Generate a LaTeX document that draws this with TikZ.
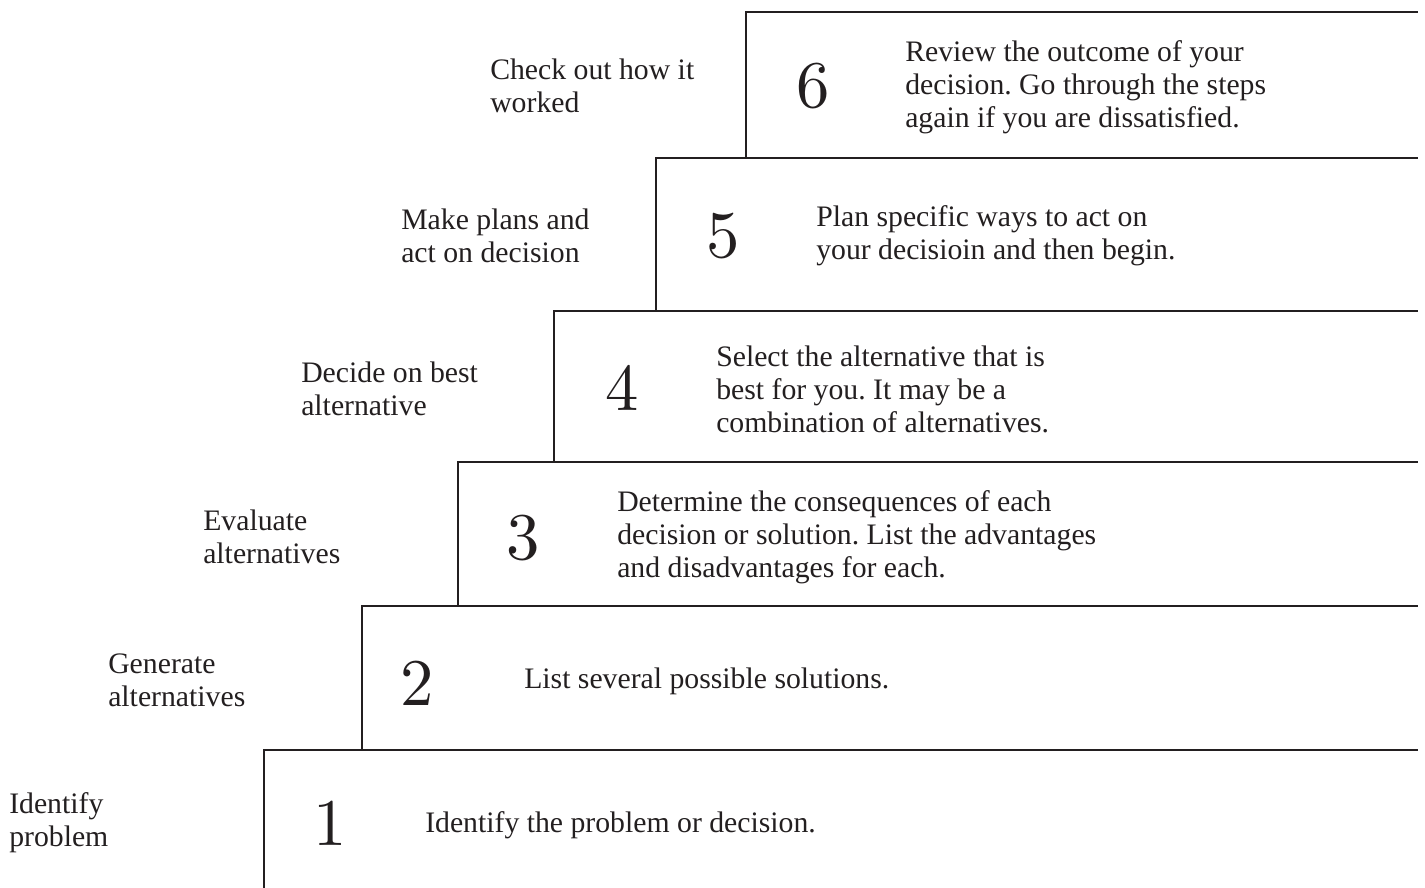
\documentclass[tikz,border=0pt]{standalone}
\usepackage{fontspec}
\newfontfamily\txtfont{Liberation Serif}
\newfontfamily\numfont{lmroman10-regular.otf}
\definecolor{ink}{HTML}{231F20}
\frenchspacing
\begin{document}
\begin{tikzpicture}[x=0.75pt,y=-0.75pt,
  stepline/.style={draw=ink,line width=2.2pt,line cap=rect},
  lbl/.style={anchor=west,align=left,inner sep=0pt,text=ink,
    font=\txtfont\fontsize{22.3}{24.75}\selectfont},
  num/.style={anchor=center,inner sep=0pt,text=ink,
    font=\numfont\fontsize{50}{50}\selectfont}]
\useasboundingbox (0,0) rectangle (1425,888);
% step outlines
\coordinate (r6) at (1417,12);
\coordinate (r5) at (1417,158);
\coordinate (r4) at (1417,311);
\coordinate (r3) at (1417,462);
\coordinate (r2) at (1417,606);
\coordinate (r1) at (1417,750);
\draw[stepline] (746,158) -- (746,12) -- (r6);
\draw[stepline] (656,311) -- (656,158) -- (r5);
\draw[stepline] (554,462) -- (554,311) -- (r4);
\draw[stepline] (458,606) -- (458,462) -- (r3);
\draw[stepline] (362,750) -- (362,606) -- (r2);
\draw[stepline] (264,892) -- (264,750) -- (r1);
% step 6
\node[lbl] (l6) at (490,86) {Check out how it\\worked};
\node[num] (n6) at (813,86) {6};
\node[lbl] (d6) at (905,87) {Review the outcome of your\\decision. Go through the steps\\again if you are dissatisfied.};
% step 5
\node[lbl] (l5) at (401,236) {Make plans and\\act on decision};
\node[num] (n5) at (723,236) {5};
\node[lbl] (d5) at (816,236) {Plan specific ways to act on\\your decisioin and then begin.};
% step 4
\node[lbl] (l4) at (301,389) {Decide on best\\alternative};
\node[num] (n4) at (622,388) {4};
\node[lbl] (d4) at (716,389) {Select the alternative that is\\best for you. It may be a\\combination of alternatives.};
% step 3
\node[lbl] (l3) at (203,537) {Evaluate\\alternatives};
\node[num] (n3) at (523,538) {3};
\node[lbl] (d3) at (617,537) {Determine the consequences of each\\decision or solution. List the advantages\\and disadvantages for each.};
% step 2
\node[lbl] (l2) at (108,680) {Generate\\alternatives};
\node[num] (n2) at (417,683) {2};
\node[lbl] (d2) at (524,681) {List several possible solutions.};
% step 1
\node[lbl] (l1) at (9,823) {Identify\\problem};
\node[num] (n1) at (330,823) {1};
\node[lbl] (d1) at (425,825) {Identify the problem or decision.};
\end{tikzpicture}
\end{document}
